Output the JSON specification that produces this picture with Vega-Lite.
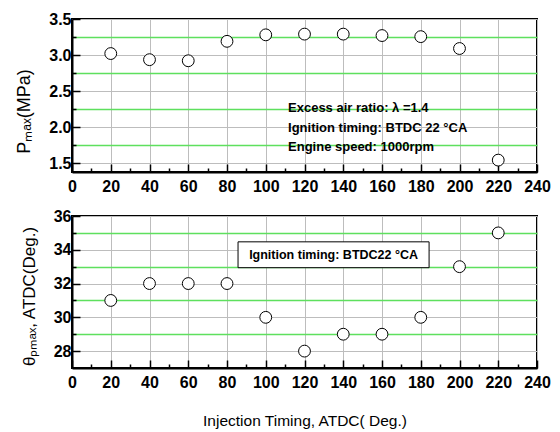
{
  "$schema": "https://vega.github.io/schema/vega-lite/v6.json",
  "autosize": {"type": "pad"},
  "padding": {"left": 14, "top": 10, "right": 0, "bottom": 0},
  "background": "white",
  "bounds": "flush",
  "spacing": 44,
  "config": {
    "view": {"stroke": "black", "strokeWidth": 2},
    "font": "Liberation Sans",
    "axis": {
      "labelFont": "Liberation Sans",
      "labelFontWeight": "bold",
      "labelFontSize": 16,
      "labelFlush": false,
      "labelOverlap": false,
      "labelColor": "black",
      "titleFont": "Liberation Sans",
      "titleFontWeight": "normal",
      "titleColor": "black",
      "domainColor": "black",
      "domainWidth": 2,
      "tickColor": "black",
      "tickWidth": 1.5,
      "gridColor": "#bdbdbd",
      "gridWidth": 1
    }
  },
  "datasets": {
    "pmax": [
      {"t": 20, "p": 3.02}, {"t": 40, "p": 2.935}, {"t": 60, "p": 2.92},
      {"t": 80, "p": 3.19}, {"t": 100, "p": 3.28}, {"t": 120, "p": 3.29},
      {"t": 140, "p": 3.29}, {"t": 160, "p": 3.27}, {"t": 180, "p": 3.255},
      {"t": 200, "p": 3.09}, {"t": 220, "p": 1.54}
    ],
    "theta": [
      {"t": 20, "a": 31}, {"t": 40, "a": 32}, {"t": 60, "a": 32},
      {"t": 80, "a": 32}, {"t": 100, "a": 30}, {"t": 120, "a": 28},
      {"t": 140, "a": 29}, {"t": 160, "a": 29}, {"t": 180, "a": 30},
      {"t": 200, "a": 33}, {"t": 220, "a": 35}
    ],
    "notes": [
      {"x": 111.5, "y": 2.26, "label": "Excess air ratio: λ =1.4"},
      {"x": 111.5, "y": 1.98, "label": "Ignition timing: BTDC 22 °CA"},
      {"x": 111.5, "y": 1.72, "label": "Engine speed: 1000rpm"}
    ],
    "box": [
      {"x1": 85.7, "x2": 184.3, "y1": 34.47, "y2": 32.94, "xc": 135, "yc": 33.7, "label": "Ignition timing: BTDC22 °CA"}
    ]
  },
  "vconcat": [
    {
      "width": 465,
      "height": 153,
      "layer": [
        {
          "data": {"name": "pmax"},
          "mark": {"type": "point", "shape": "circle", "filled": true, "fill": "white", "stroke": "black", "strokeWidth": 1, "size": 140, "opacity": 1},
          "encoding": {
            "x": {"field": "t", "type": "quantitative", "scale": {"domain": [0, 240], "nice": false, "zero": false},
              "axis": {"values": [0, 20, 40, 60, 80, 100, 120, 140, 160, 180, 200, 220, 240], "tickSize": -8, "labelPadding": 14, "title": null, "grid": true}},
            "y": {"field": "p", "type": "quantitative", "scale": {"domain": [1.375, 3.5], "nice": false, "zero": false},
              "axis": {"values": [1.5, 2.0, 2.5, 3.0, 3.5], "format": ".1f", "tickSize": -8, "labelPadding": 9, "title": "Pₘₐₓ(MPa)", "titleFontSize": 18, "titlePadding": 15, "titleY": 92, "grid": true}}
          }
        },
        {
          "data": {"name": "notes"},
          "mark": {"type": "text", "align": "left", "baseline": "middle", "fontWeight": "bold", "fontSize": 13, "font": "Liberation Sans", "color": "black"},
          "encoding": {
            "x": {"field": "x", "type": "quantitative",
              "axis": {"orient": "bottom", "values": [10, 30, 50, 70, 90, 110, 130, 150, 170, 190, 210, 230], "tickSize": -4, "labels": false, "domain": false, "grid": false, "title": null}},
            "y": {"field": "y", "type": "quantitative",
              "axis": {"orient": "left", "values": [1.75, 2.25, 2.75, 3.25], "tickSize": -4, "labels": false, "domain": false, "grid": true, "gridColor": "#5ee05e", "gridWidth": 1.3, "title": null}},
            "text": {"field": "label"}
          }
        }
      ],
      "resolve": {"axis": {"x": "independent", "y": "independent"}}
    },
    {
      "width": 465,
      "height": 152,
      "layer": [
        {
          "data": {"name": "theta"},
          "mark": {"type": "point", "shape": "circle", "filled": true, "fill": "white", "stroke": "black", "strokeWidth": 1, "size": 140, "opacity": 1},
          "encoding": {
            "x": {"field": "t", "type": "quantitative", "scale": {"domain": [0, 240], "nice": false, "zero": false},
              "axis": {"values": [0, 20, 40, 60, 80, 100, 120, 140, 160, 180, 200, 220, 240], "tickSize": -8, "labelPadding": 14, "title": "Injection Timing, ATDC( Deg.)", "titleFontSize": 15.5, "titlePadding": 23, "grid": true}},
            "y": {"field": "a", "type": "quantitative", "scale": {"domain": [27, 36], "nice": false, "zero": false},
              "axis": {"values": [28, 30, 32, 34, 36], "tickSize": -8, "labelPadding": 9, "title": "θₚₘₐₓ, ATDC(Deg.)", "titleFontSize": 17, "titlePadding": 15, "titleY": 80, "grid": true}}
          }
        },
        {
          "data": {"name": "box"},
          "mark": {"type": "rect", "fill": "white", "stroke": "black", "strokeWidth": 1},
          "encoding": {
            "x": {"field": "x1", "type": "quantitative",
              "axis": {"orient": "bottom", "values": [10, 30, 50, 70, 90, 110, 130, 150, 170, 190, 210, 230], "tickSize": -4, "labels": false, "domain": false, "grid": false, "title": null}},
            "x2": {"field": "x2"},
            "y": {"field": "y1", "type": "quantitative",
              "axis": {"orient": "left", "values": [29, 31, 33, 35], "tickSize": -4, "labels": false, "domain": false, "grid": true, "gridColor": "#5ee05e", "gridWidth": 1.3, "title": null}},
            "y2": {"field": "y2"}
          }
        },
        {
          "data": {"name": "box"},
          "mark": {"type": "text", "align": "center", "baseline": "middle", "fontWeight": "bold", "fontSize": 12.5, "font": "Liberation Sans", "color": "black"},
          "encoding": {
            "x": {"field": "xc", "type": "quantitative", "axis": null},
            "y": {"field": "yc", "type": "quantitative", "axis": null},
            "text": {"field": "label"}
          }
        }
      ],
      "resolve": {"axis": {"x": "independent", "y": "independent"}}
    }
  ]
}
